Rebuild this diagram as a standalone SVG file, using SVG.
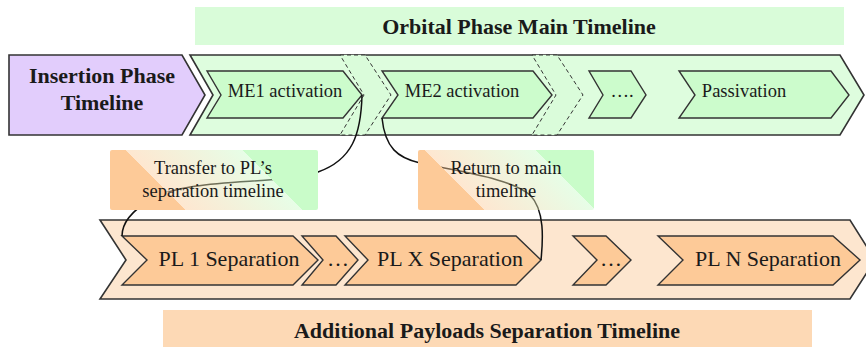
<svg xmlns="http://www.w3.org/2000/svg" width="866" height="347" viewBox="0 0 866 347">
<style>
text{font-family:"Liberation Serif","Times New Roman",serif;fill:#1a1a1a;text-anchor:middle}
.ttl{font-size:22px;font-weight:bold}
.me{font-size:18.5px}
.pl{font-size:22px}
.lbl{font-size:18.5px}
.outer{stroke:#333;stroke-width:1.6;stroke-linejoin:miter}
.inner{stroke:#333;stroke-width:1.4;stroke-linejoin:miter}
.gbox{fill:#ccfccc}
.pbox{fill:#fdca98}
.band{fill:#dafcda;stroke:#333;stroke-width:1;stroke-dasharray:4 3}
.conn{fill:none;stroke:#111;stroke-width:1.5}
</style>
<defs>
<linearGradient id="g1" gradientUnits="userSpaceOnUse" x1="110" y1="210" x2="244" y2="76">
<stop offset="0" stop-color="#fdca98"/>
<stop offset="0.28" stop-color="#fdca98"/>
<stop offset="0.28" stop-color="#fdca98" stop-opacity="0.45"/>
<stop offset="0.72" stop-color="#c9fcc9" stop-opacity="0.45"/>
<stop offset="0.72" stop-color="#c9fcc9"/>
<stop offset="1" stop-color="#c9fcc9"/>
</linearGradient>
<linearGradient id="g2" gradientUnits="userSpaceOnUse" x1="418" y1="210" x2="536" y2="92">
<stop offset="0" stop-color="#fdca98"/>
<stop offset="0.28" stop-color="#fdca98"/>
<stop offset="0.28" stop-color="#fdca98" stop-opacity="0.45"/>
<stop offset="0.75" stop-color="#c9fcc9" stop-opacity="0.45"/>
<stop offset="0.75" stop-color="#c9fcc9"/>
<stop offset="1" stop-color="#c9fcc9"/>
</linearGradient>
</defs>

<g id="orbital-title">
<rect x="195" y="7" width="649" height="38" fill="#d9fcd9"/>
<text class="ttl" x="519" y="34">Orbital Phase Main Timeline</text>
</g>

<g id="insertion-phase">
<polygon class="outer" points="9,55 182,55 205,95 182,135 9,135" fill="#e2cdfc"/>
<text class="ttl" x="102" y="83">Insertion Phase</text>
<text class="ttl" x="102" y="110">Timeline</text>
</g>

<g id="orbital-timeline">
<polygon class="outer" points="190,55 840,55 864,95 840,135 190,135 213,95" fill="#defdde"/>
<polygon class="band" points="340,55 365,55 391,95 365,135 340,135 364,95"/>
<polygon class="band" points="532,55 557,55 583,95 557,135 532,135 556,95"/>
</g>

<g id="me1">
<polygon class="inner gbox" points="207,71 343,71 362,95 343,118 207,118 221,95"/>
<text class="me" x="285" y="97">ME1 activation</text>
</g>
<g id="me2">
<polygon class="inner gbox" points="382,71 533,71 552,95 533,118 382,118 398,95"/>
<text class="me" x="462" y="97">ME2 activation</text>
</g>
<g id="me-dots">
<polygon class="inner gbox" points="589,71 631,71 646,95 631,118 589,118 603,95"/>
<text class="me" x="622" y="97">….</text>
</g>
<g id="passivation">
<polygon class="inner gbox" points="679,71 831,71 849,95 831,118 679,118 695,95"/>
<text class="me" x="744" y="97">Passivation</text>
</g>

<g id="payload-timeline">
<polygon class="outer" points="100,220 850,220 875,260 850,299 100,299 126,260" fill="#fde6cf"/>
</g>
<g id="pl1">
<polygon class="inner pbox" points="122,236 293,236 318,260 293,285 122,285 147,260"/>
<text class="pl" x="229" y="266">PL 1 Separation</text>
</g>
<g id="pl-dots1">
<polygon class="inner pbox" points="302,236 336,236 358,260 336,285 302,285 323,260"/>
<text class="pl" x="338" y="266">…</text>
</g>
<g id="plx">
<polygon class="inner pbox" points="345,236 516,236 541,260 516,285 345,285 368,260"/>
<text class="pl" x="450" y="266">PL X Separation</text>
</g>
<g id="pl-dots2">
<polygon class="inner pbox" points="573,236 606,236 631,260 606,285 573,285 597,260"/>
<text class="pl" x="611" y="266">…</text>
</g>
<g id="pln">
<polygon class="inner pbox" points="658,236 833,236 860,260 833,285 658,285 683,260"/>
<text class="pl" x="768" y="266">PL N Separation</text>
</g>

<g id="payload-title">
<rect x="163" y="310" width="649" height="37" fill="#fdd9b5"/>
<text class="ttl" x="487" y="338">Additional Payloads Separation Timeline</text>
</g>

<g id="connectors">
<path class="conn" d="M362,95 C361,135 352,160 318,172 C280,186 190,176 150,200 C130,212 122,225 122,236"/>
<path class="conn" d="M382,118 C385,148 398,158 420,163 C460,172 510,178 530,195 C545,210 543,240 541,260"/>
</g>

<g id="label-transfer">
<rect x="110" y="150" width="208" height="60" rx="2" fill="url(#g1)"/>
<text class="lbl" x="213" y="174">Transfer to PL’s</text>
<text class="lbl" x="213" y="197">separation timeline</text>
</g>
<g id="label-return">
<rect x="418" y="150" width="176" height="60" rx="2" fill="url(#g2)"/>
<text class="lbl" x="506" y="174">Return to main</text>
<text class="lbl" x="506" y="197">timeline</text>
</g>
</svg>
